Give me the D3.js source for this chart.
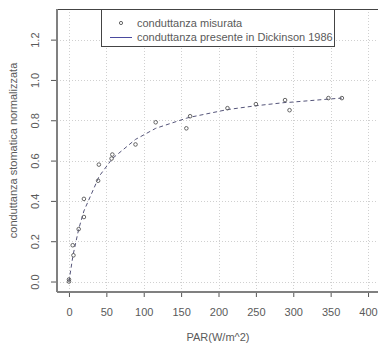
<!DOCTYPE html>
<html>
<head>
<meta charset="utf-8">
<script src="https://cdn.jsdelivr.net/npm/d3@7"></script>
<style>
  body { margin: 0; background: #fff; }
  svg text { font-family: "Liberation Sans", Arial, sans-serif; fill: #5a5a5a; }
</style>
</head>
<body>
<svg id="chart" width="378" height="347"></svg>
<script>
// measured stomatal conductance (normalised) vs PAR
var parMeasured = [0, 0, 5, 6, 13, 20, 20, 39, 40, 57, 58, 89, 116, 157, 162, 212, 250, 289, 295, 347, 365];
var gMeasured   = [0, 0.01, 0.18, 0.13, 0.26, 0.32, 0.41, 0.50, 0.58, 0.61, 0.63, 0.68, 0.79, 0.76, 0.82, 0.86, 0.88, 0.90, 0.85, 0.91, 0.91];

// Dickinson 1986 curve
var parModel = [0, 5, 6, 13, 20, 39, 40, 57, 58, 89, 116, 157, 162, 212, 250, 289, 295, 347, 365];
var gModel   = [0, 0.12, 0.14, 0.26, 0.35, 0.51, 0.52, 0.605, 0.61, 0.705, 0.76, 0.81, 0.815, 0.853, 0.872, 0.888, 0.889, 0.905, 0.91];

var xTicks = [0, 50, 100, 150, 200, 250, 300, 350, 400];
var yTicks = [0, 0.2, 0.4, 0.6, 0.8, 1.0, 1.2];

var legendLabels = ["conduttanza misurata", "conduttanza presente in Dickinson 1986"];

(function() {
  var svg = d3.select("#chart");
  var pl = 57, pr = 380, pt = 9, pb = 292;
  var font = "Liberation Sans, Arial, sans-serif";

  var x = d3.scaleLinear().domain([-16, 416]).range([pl, pr]);
  var y = d3.scaleLinear().domain([-0.052, 1.352]).range([pb, pt]);

  // grid
  var grid = svg.append("g").attr("stroke", "#d0d0d0").attr("stroke-dasharray", "1,2").attr("stroke-width", 1);
  xTicks.forEach(function(t) {
    grid.append("line").attr("x1", Math.round(x(t)) + .5).attr("x2", Math.round(x(t)) + .5)
      .attr("y1", pt).attr("y2", pb);
  });
  yTicks.forEach(function(t) {
    grid.append("line").attr("y1", Math.round(y(t)) + .5).attr("y2", Math.round(y(t)) + .5)
      .attr("x1", pl).attr("x2", pr);
  });

  // box
  svg.append("rect").attr("x", pl + .5).attr("y", pt + .5)
    .attr("width", pr - pl).attr("height", pb - pt)
    .attr("fill", "none").attr("stroke", "#444");

  // axes
  var xAxis = d3.axisBottom(x).tickValues(xTicks).tickSize(5).tickPadding(11).tickFormat(d3.format("d"));
  var gx = svg.append("g").attr("transform", "translate(0," + pb + ")").call(xAxis);
  gx.select(".domain").remove();
  gx.append("line").attr("x1", pl).attr("x2", pr).attr("stroke", "#808080").attr("stroke-width", 2);
  gx.selectAll(".tick line").attr("stroke", "#555");
  gx.selectAll(".tick text").attr("font-size", 11).attr("fill", "#5a5a5a").attr("font-family", font);

  var yAxis = d3.axisLeft(y).tickValues(yTicks).tickSize(6).tickFormat(d3.format(".1f"));
  var gy = svg.append("g").attr("transform", "translate(" + pl + ",0)").call(yAxis);
  gy.select(".domain").remove();
  gy.append("line").attr("y1", pt).attr("y2", pb).attr("stroke", "#808080").attr("stroke-width", 2);
  gy.selectAll(".tick line").attr("stroke", "#555");
  gy.selectAll(".tick text")
    .attr("font-size", 11).attr("fill", "#5a5a5a").attr("font-family", font)
    .attr("x", null).attr("dy", "0.35em")
    .attr("text-anchor", "middle")
    .attr("transform", "translate(-22,0) rotate(-90)");

  // axis titles
  svg.append("text").attr("x", 218).attr("y", 341).attr("text-anchor", "middle")
    .attr("font-size", 11).text("PAR(W/m^2)");
  svg.append("text").attr("transform", "translate(17," + ((pt + pb) / 2) + ") rotate(-90)")
    .attr("text-anchor", "middle").attr("font-size", 11)
    .text("conduttanza stomatica normalizzata");

  // model line
  var line = d3.line().x(function(d) { return x(d[0]); }).y(function(d) { return y(d[1]); });
  svg.append("path").datum(d3.zip(parModel, gModel))
    .attr("d", line).attr("fill", "none")
    .attr("stroke", "#55557a").attr("stroke-width", 1).attr("stroke-dasharray", "4,3");

  // measured points
  svg.append("g").selectAll("circle").data(d3.zip(parMeasured, gMeasured)).enter()
    .append("circle")
    .attr("cx", function(d) { return x(d[0]); })
    .attr("cy", function(d) { return y(d[1]); })
    .attr("r", 1.8).attr("fill", "none").attr("stroke", "#555").attr("stroke-width", 0.9);

  // legend
  var lg = svg.append("g");
  lg.append("rect").attr("x", 101.5).attr("y", pt + .5).attr("width", 233).attr("height", 37)
    .attr("fill", "#fff").attr("stroke", "#444");
  lg.append("circle").attr("cx", 121).attr("cy", 23).attr("r", 1.6)
    .attr("fill", "none").attr("stroke", "#555").attr("stroke-width", 0.9);
  lg.append("line").attr("x1", 110).attr("x2", 132).attr("y1", 37.5).attr("y2", 37.5)
    .attr("stroke", "#4a4a9e").attr("stroke-width", 1);
  legendLabels.forEach(function(t, i) {
    lg.append("text").attr("x", 137).attr("y", 27 + i * 14).attr("font-size", 11).text(t);
  });
})();
</script>
</body>
</html>
